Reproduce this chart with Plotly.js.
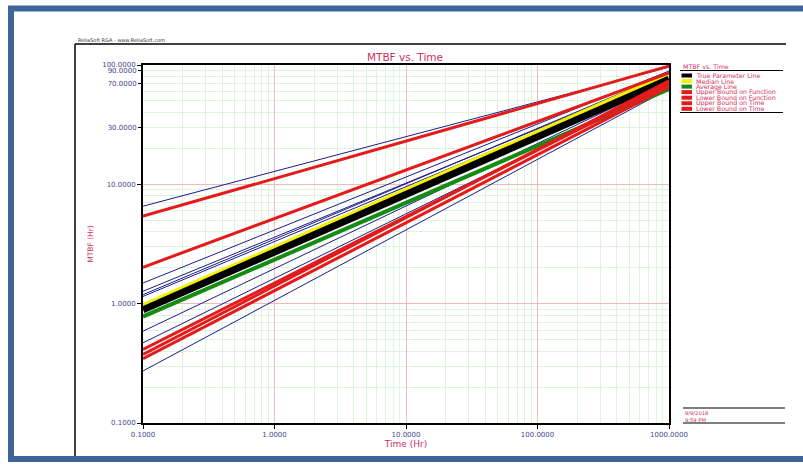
<!DOCTYPE html>
<html><head><meta charset="utf-8">
<script src="https://cdn.plot.ly/plotly-3.0.1.min.js"></script>
<style>html,body{margin:0;padding:0;background:#fff;} #chart{width:803px;height:464px;}</style>
</head><body><div id="chart"></div>
<script>
// ---- data (MTBF in Hr at Time = 0.1 and 1000 Hr) ----
const time = [0.1, 1000];
const trueParameter = [0.89, 76];
const medianLine = [0.96, 83];
const averageLine = [0.78, 63];
const upperBoundFunction = [2.02, 86];
const lowerBoundFunction = [0.414, 69.5];
const upperBoundTime = [5.41, 98];
const lowerBoundTime = [0.376, 73.6];
const extraBound = [0.346, 65.6];
const simulationLines = [
  [6.56, 96], [1.49, 89], [1.27, 82.5], [1.19, 85.8],
  [1.15, 79.4], [0.588, 73.6], [0.47, 68.1], [0.273, 63.1]
];
const legendNames = ['True Parameter Line','Median Line','Average Line','Upper Bound on Function','Lower Bound on Function','Upper Bound on Time','Lower Bound on Time'];
const xTickVals = [0.1, 1, 10, 100, 1000];
const xTickText = ['0.1000','1.0000','10.0000','100.0000','1000.0000'];
const yTickVals = [0.1, 1, 10, 100];
const yTickText = ['0.1000','1.0000','10.0000','100.0000'];
const yExtraVals = [30, 70, 90];
const yExtraText = ['30.0000','70.0000','90.0000'];

// ---- styles ----
const RED = '#e41b1b', BLUE = '#1c1c8e', YEL = '#f4f000', GRN = '#148c14', BLK = '#000000';
const PINK = '#d0305e', TICKC = '#45458c', FONT = 'DejaVu Sans';
const legendColors = [BLK, YEL, GRN, RED, RED, RED, RED];

function digitsGrid(decades){ const v=[]; decades.forEach(d=>{for(let k=2;k<=9;k++) v.push(+(k*d).toPrecision(3));}); return v; }

const traces = [];
simulationLines.forEach(s => traces.push({x: time, y: s, mode:'lines', line:{color:BLUE, width:1}, showlegend:false, hoverinfo:'skip'}));
[[averageLine,GRN,4],[medianLine,YEL,5],[trueParameter,BLK,7]].forEach(([s,c,w]) =>
  traces.push({x: time, y: s, mode:'lines', line:{color:c, width:w}, showlegend:false, hoverinfo:'skip'}));
[upperBoundTime, upperBoundFunction, lowerBoundFunction, lowerBoundTime, extraBound].forEach(s =>
  traces.push({x: time, y: s, mode:'lines', line:{color:RED, width:3}, showlegend:false, hoverinfo:'skip'}));
// invisible trace to anchor the secondary tick-label axis
traces.push({x: time, y: trueParameter, yaxis:'y2', mode:'lines', line:{width:0}, opacity:0, showlegend:false, hoverinfo:'skip'});

// pixel -> paper helpers (plot area 143..669 x, 65..423 y)
const PL=143, PW=526, PB=423, PH=358;
const px = v => (v-PL)/PW, py = v => (PB-v)/PH;

const shapes = [
  {type:'rect', xref:'paper', yref:'paper', x0:px(11), x1:px(830), y0:py(459), y1:py(8.5), line:{color:'#3f6597', width:6}},
  {type:'line', xref:'paper', yref:'paper', x0:px(75), x1:px(75), y0:py(456), y1:py(44), line:{color:'#000', width:1.5}},
  {type:'line', xref:'paper', yref:'paper', x0:px(75), x1:px(786), y0:py(44), y1:py(44), line:{color:'#000', width:1.5}},
  {type:'line', xref:'paper', yref:'paper', x0:px(680), x1:px(783), y0:py(70.5), y1:py(70.5), line:{color:'#000', width:1}},
  {type:'line', xref:'paper', yref:'paper', x0:px(680), x1:px(783), y0:py(112.5), y1:py(112.5), line:{color:'#000', width:1}},
  {type:'line', xref:'paper', yref:'paper', x0:px(683), x1:px(785), y0:py(408), y1:py(408), line:{color:'#000', width:1.2}},
  {type:'line', xref:'paper', yref:'paper', x0:px(683), x1:px(785), y0:py(423), y1:py(423), line:{color:'#000', width:1.2}}
];
const annotations = [
  {xref:'paper', yref:'paper', x:px(76), y:py(40), xanchor:'left', yanchor:'middle', showarrow:false, text:'ReliaSoft RGA - www.ReliaSoft.com', font:{family:FONT, size:5, color:'#333'}},
  {xref:'paper', yref:'paper', x:px(681), y:py(66.5), xanchor:'left', yanchor:'middle', showarrow:false, text:'MTBF vs. Time', font:{family:FONT, size:6.3, color:PINK}},
  {xref:'paper', yref:'paper', x:px(683), y:py(413), xanchor:'left', yanchor:'middle', showarrow:false, text:'9/9/2018', font:{family:FONT, size:5.2, color:PINK}},
  {xref:'paper', yref:'paper', x:px(683), y:py(419.5), xanchor:'left', yanchor:'middle', showarrow:false, text:'9:59 PM', font:{family:FONT, size:5.2, color:PINK}}
];
legendNames.forEach((name, i) => {
  const yc = 75.5 + i*5.55;
  shapes.push({type:'rect', xref:'paper', yref:'paper', x0:px(681.5), x1:px(692), y0:py(yc+2), y1:py(yc-2), line:{width:0}, fillcolor:legendColors[i]});
  annotations.push({xref:'paper', yref:'paper', x:px(694), y:py(yc), xanchor:'left', yanchor:'middle', showarrow:false, text:name, font:{family:FONT, size:6.3, color:PINK}});
});

const layout = {
  width:803, height:464,
  margin:{l:143, r:134, t:65, b:41},
  paper_bgcolor:'#fff', plot_bgcolor:'#fff',
  showlegend:false,
  title:{text:'MTBF vs. Time', x:px(405), xref:'paper', xanchor:'center', y:1-57/464, yref:'container', yanchor:'middle', font:{family:FONT, size:10.5, color:PINK}},
  xaxis:{type:'log', range:[-1,3], tickmode:'array', tickvals:xTickVals, ticktext:xTickText,
    showgrid:true, gridcolor:'#f0baba', gridwidth:1, zeroline:false,
    ticks:'outside', ticklen:4, tickcolor:'#000', showline:true, linecolor:'#000', linewidth:2, mirror:true,
    tickfont:{family:FONT, size:7, color:TICKC},
    minor:{tickmode:'array', tickvals:digitsGrid([0.1,1,10,100]), showgrid:true, gridcolor:'#dcf4dc', gridwidth:1, ticks:''},
    title:{text:'Time (Hr)', font:{family:FONT, size:9, color:PINK}, standoff:2}},
  yaxis:{type:'log', range:[-1,2], tickmode:'array', tickvals:yTickVals, ticktext:yTickText,
    showgrid:true, gridcolor:'#f0baba', gridwidth:1, zeroline:false,
    ticks:'outside', ticklen:4, tickcolor:'#000', showline:true, linecolor:'#000', linewidth:2, mirror:true,
    tickfont:{family:FONT, size:7, color:TICKC},
    minor:{tickmode:'array', tickvals:digitsGrid([0.1,1,10]), showgrid:true, gridcolor:'#dcf4dc', gridwidth:1, ticks:''},
    title:{text:'MTBF (Hr)', font:{family:FONT, size:7.5, color:PINK}, standoff:8}},
  yaxis2:{type:'log', range:[-1,2], overlaying:'y', side:'left', tickmode:'array', tickvals:yExtraVals, ticktext:yExtraText,
    showgrid:false, zeroline:false, showline:false, ticks:'outside', ticklen:4, tickcolor:'#000',
    tickfont:{family:FONT, size:7, color:TICKC}},
  shapes:shapes, annotations:annotations
};
Plotly.newPlot('chart', traces, layout, {displayModeBar:false, staticPlot:true});
</script></body></html>
